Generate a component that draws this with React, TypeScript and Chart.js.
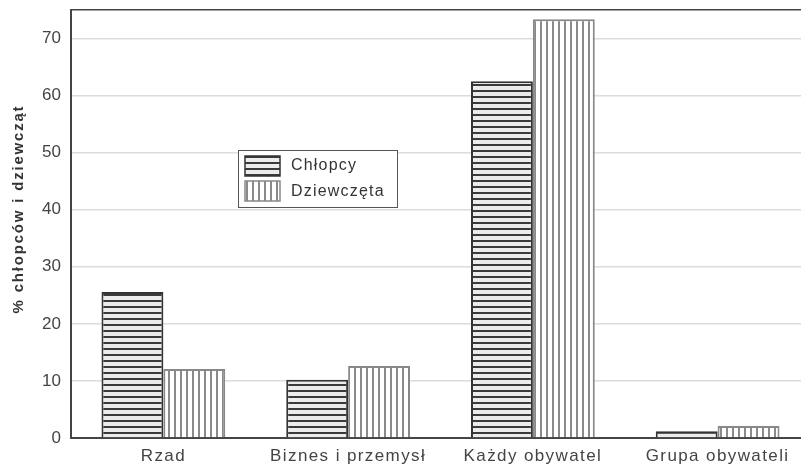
import React, { useEffect, useRef } from "react";
import { Chart, registerables } from "chart.js";

Chart.register(...registerables);

const categories = ["Rzad", "Biznes i przemysł", "Każdy obywatel", "Grupa obywateli"];
const chlopcy = [25.6, 10.2, 62.5, 1.2];
const dziewczeta = [12.1, 12.6, 73.4, 2.1];
const seriesNames = ["Chłopcy", "Dziewczęta"];
const yTitle = "% chłopców i dziewcząt";

const FONT = "'Liberation Sans', Arial, sans-serif";

function makeHPattern(): CanvasPattern | string {
  const c = document.createElement("canvas");
  c.width = 6;
  c.height = 6;
  const ctx = c.getContext("2d");
  if (!ctx) return "#666";
  ctx.fillStyle = "#ececec";
  ctx.fillRect(0, 0, 6, 6);
  ctx.fillStyle = "#3a3a3a";
  ctx.fillRect(0, 0, 6, 2);
  return ctx.createPattern(c, "repeat") || "#666";
}

function makeVPattern(): CanvasPattern | string {
  const c = document.createElement("canvas");
  c.width = 6;
  c.height = 6;
  const ctx = c.getContext("2d");
  if (!ctx) return "#aaa";
  ctx.fillStyle = "#ffffff";
  ctx.fillRect(0, 0, 6, 6);
  ctx.fillStyle = "#8a8a8a";
  ctx.fillRect(0, 0, 2, 6);
  return ctx.createPattern(c, "repeat") || "#aaa";
}

export default function App() {
  const ref = useRef<HTMLCanvasElement | null>(null);

  useEffect(() => {
    document.documentElement.style.overflow = "hidden";
    document.body.style.margin = "0";
    document.body.style.overflow = "hidden";
    const canvas = ref.current;
    if (!canvas) return;
    const hPat = makeHPattern();
    const vPat = makeVPattern();

    const textPlugin = {
      id: "customText",
      afterDraw(chart: any) {
        const ctx = chart.ctx;
        ctx.save();
        // legend
        const x = 238, y = 150, w = 159, h = 57;
        ctx.fillStyle = "#fff";
        ctx.fillRect(x, y, w, h);
        ctx.strokeStyle = "#555";
        ctx.lineWidth = 1;
        ctx.strokeRect(x + 0.5, y + 0.5, w, h);
        ctx.fillStyle = hPat;
        ctx.fillRect(245, 156, 35, 20);
        ctx.strokeStyle = "#333";
        ctx.lineWidth = 1.5;
        ctx.strokeRect(245, 156, 35, 20);
        ctx.fillStyle = vPat;
        ctx.fillRect(245, 181, 35, 20);
        ctx.strokeStyle = "#888";
        ctx.strokeRect(245, 181, 35, 20);
        ctx.fillStyle = "#333";
        ctx.font = "16px " + FONT;
        (ctx as any).letterSpacing = "1.2px";
        ctx.textBaseline = "middle";
        ctx.textAlign = "left";
        ctx.fillText(seriesNames[0], 291, 166);
        ctx.fillText(seriesNames[1], 291, 192);

        // x category labels
        const xs = chart.scales.x;
        ctx.font = "17px " + FONT;
        (ctx as any).letterSpacing = "1.4px";
        ctx.textAlign = "center";
        ctx.textBaseline = "top";
        ctx.fillStyle = "#444";
        categories.forEach((lab, i) => {
          ctx.fillText(lab, xs.getPixelForTick(i), 448);
        });

        // y title
        ctx.font = "bold 15px " + FONT;
        (ctx as any).letterSpacing = "1.8px";
        ctx.translate(19, 209);
        ctx.rotate(-Math.PI / 2);
        ctx.textAlign = "center";
        ctx.textBaseline = "middle";
        ctx.fillStyle = "#333";
        ctx.fillText(yTitle, 0, 0);
        ctx.restore();
        (ctx as any).letterSpacing = "0px";
      },
    };

    const chart = new Chart(canvas, {
      type: "bar",
      data: {
        labels: categories,
        datasets: [
          {
            label: seriesNames[0],
            data: chlopcy,
            backgroundColor: hPat as any,
            borderColor: "#333",
            borderWidth: 2,
            categoryPercentage: 0.67,
            barPercentage: 1,
          },
          {
            label: seriesNames[1],
            data: dziewczeta,
            backgroundColor: vPat as any,
            borderColor: "#888",
            borderWidth: 2,
            categoryPercentage: 0.67,
            barPercentage: 1,
          },
        ],
      },
      options: {
        animation: false,
        responsive: false,
        maintainAspectRatio: false,
        layout: { padding: { top: 10, left: 0, right: 0, bottom: 0 } },
        plugins: {
          legend: { display: false },
          tooltip: { enabled: false },
        },
        scales: {
          x: {
            grid: { display: false, drawTicks: false },
            border: { color: "#444", width: 2 },
            ticks: { display: false },
            afterFit(scale: any) {
              scale.height = 28;
              scale.paddingLeft = 0;
              scale.paddingRight = 0;
            },
          },
          y: {
            min: 0,
            max: 75,
            ticks: {
              stepSize: 10,
              color: "#444",
              padding: 10,
              font: { family: FONT, size: 17 },
              callback: (v: any) => (Number(v) % 10 === 0 ? String(v) : ""),
            },
            grid: {
              color: (c: any) => (c.tick && c.tick.value === 75 ? "#444" : "#dcdcdc"),
              lineWidth: 1.5,
              drawTicks: false,
            },
            border: { color: "#444", width: 2 },
            title: { display: false },
            afterFit(scale: any) {
              scale.width = 71;
              scale.paddingTop = 0;
              scale.paddingBottom = 0;
            },
          },
        },
      },
      plugins: [textPlugin],
    });
    return () => chart.destroy();
  }, []);

  return (
    <div style={{ width: 810, height: 466, overflow: "hidden" }}>
      <canvas ref={ref} width={810} height={466} style={{ display: "block" }} />
    </div>
  );
}
